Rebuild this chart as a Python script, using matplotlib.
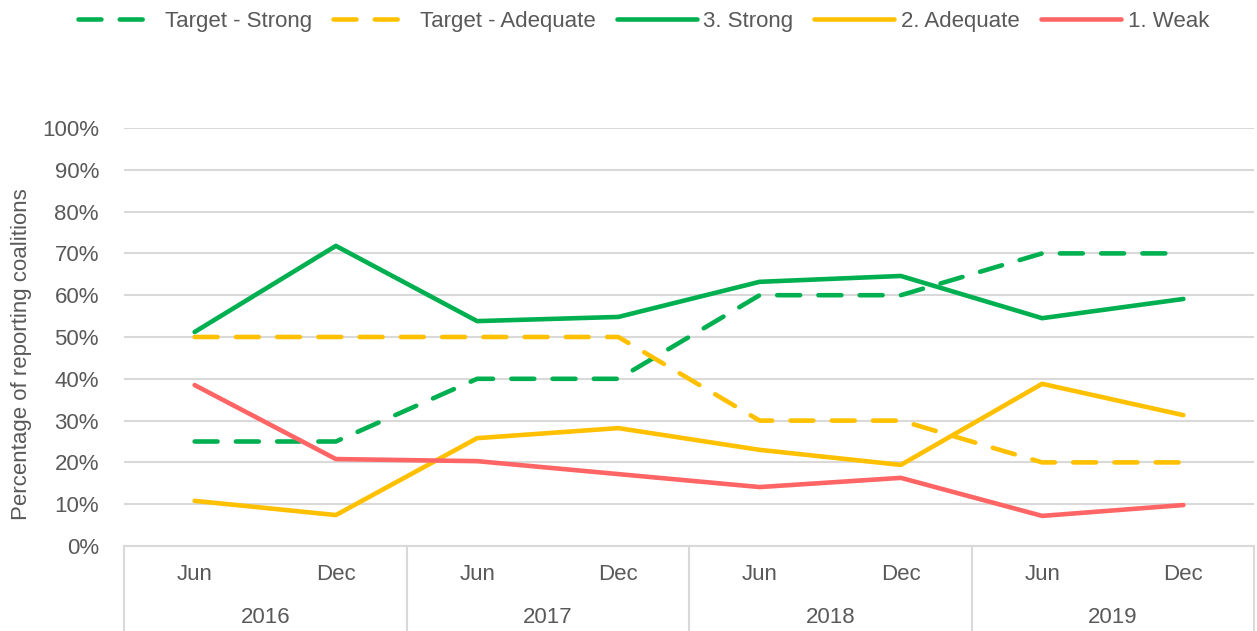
import matplotlib.pyplot as plt

plt.rcParams['font.family'] = ['Liberation Sans', 'DejaVu Sans']

# data
months = ['Jun', 'Dec'] * 4
years = ['2016', '2017', '2018', '2019']
target_strong = [25, 25, 40, 40, 60, 60, 70, 70]
target_adequate = [50, 50, 50, 50, 30, 30, 20, 20]
strong = [51.2, 71.8, 53.8, 54.8, 63.2, 64.6, 54.5, 59.1]
adequate = [10.8, 7.4, 25.8, 28.2, 23.0, 19.4, 38.8, 31.3]
weak = [38.5, 20.8, 20.3, 17.2, 14.1, 16.3, 7.2, 9.8]

GREEN = '#00B050'
YELLOW = '#FFC000'
RED = '#FF6565'
TXT = '#595959'
GRID = '#D9D9D9'
FS = 16

fig = plt.figure(figsize=(12.57, 6.31), dpi=100)
ax = fig.add_axes([124 / 1257, 85 / 631, 1130 / 1257, 418 / 631])

x = list(range(len(months)))
lw = 3.3
dash = (0, (5, 4))
ax.plot(x, target_strong, color=GREEN, lw=lw, linestyle=dash, dash_capstyle='round', label='Target - Strong')
ax.plot(x, target_adequate, color=YELLOW, lw=lw, linestyle=dash, dash_capstyle='round', label='Target - Adequate')
ax.plot(x, strong, color=GREEN, lw=lw, solid_capstyle='round', label='3. Strong')
ax.plot(x, adequate, color=YELLOW, lw=lw, solid_capstyle='round', label='2. Adequate')
ax.plot(x, weak, color=RED, lw=lw, solid_capstyle='round', label='1. Weak')

ax.set_xlim(-0.5, len(months) - 0.5)
ax.set_ylim(0, 100)
ax.set_yticks(range(0, 101, 10))
ax.set_yticklabels([f'{v}%' for v in range(0, 101, 10)])
ax.yaxis.grid(True, color=GRID, lw=1.5)
ax.set_axisbelow(True)
ax.tick_params(axis='y', length=0, labelsize=FS, labelcolor=TXT, pad=18)
ax.set_xticks([])
for s in ['top', 'right', 'left']:
    ax.spines[s].set_visible(False)
ax.spines['bottom'].set_color(GRID)
ax.spines['bottom'].set_linewidth(1.5)

ax.set_ylabel('Percentage of reporting coalitions', fontsize=FS, color=TXT)
ax.yaxis.set_label_coords(-0.081, 0.46)

# two-level category axis
trans = ax.get_xaxis_transform()
for i, m in enumerate(months):
    ax.text(i, -0.068, m, transform=trans, ha='center', va='center', fontsize=FS, color=TXT)
for j, yr in enumerate(years):
    ax.text(2 * j + 0.5, -0.17, yr, transform=trans, ha='center', va='center', fontsize=FS, color=TXT)
for k in range(len(years) + 1):
    ax.plot([2 * k - 0.5, 2 * k - 0.5], [0, -0.21], transform=trans, color=GRID, lw=1.5, clip_on=False)

handles, labels = ax.get_legend_handles_labels()
fig.legend(handles, labels, loc='upper center', bbox_to_anchor=(0.512, 1.015), ncol=5, frameon=False,
           fontsize=FS, labelcolor=TXT, handlelength=3.6, handletextpad=0.3, columnspacing=0.95)

fig.savefig('out.png', dpi=100)
